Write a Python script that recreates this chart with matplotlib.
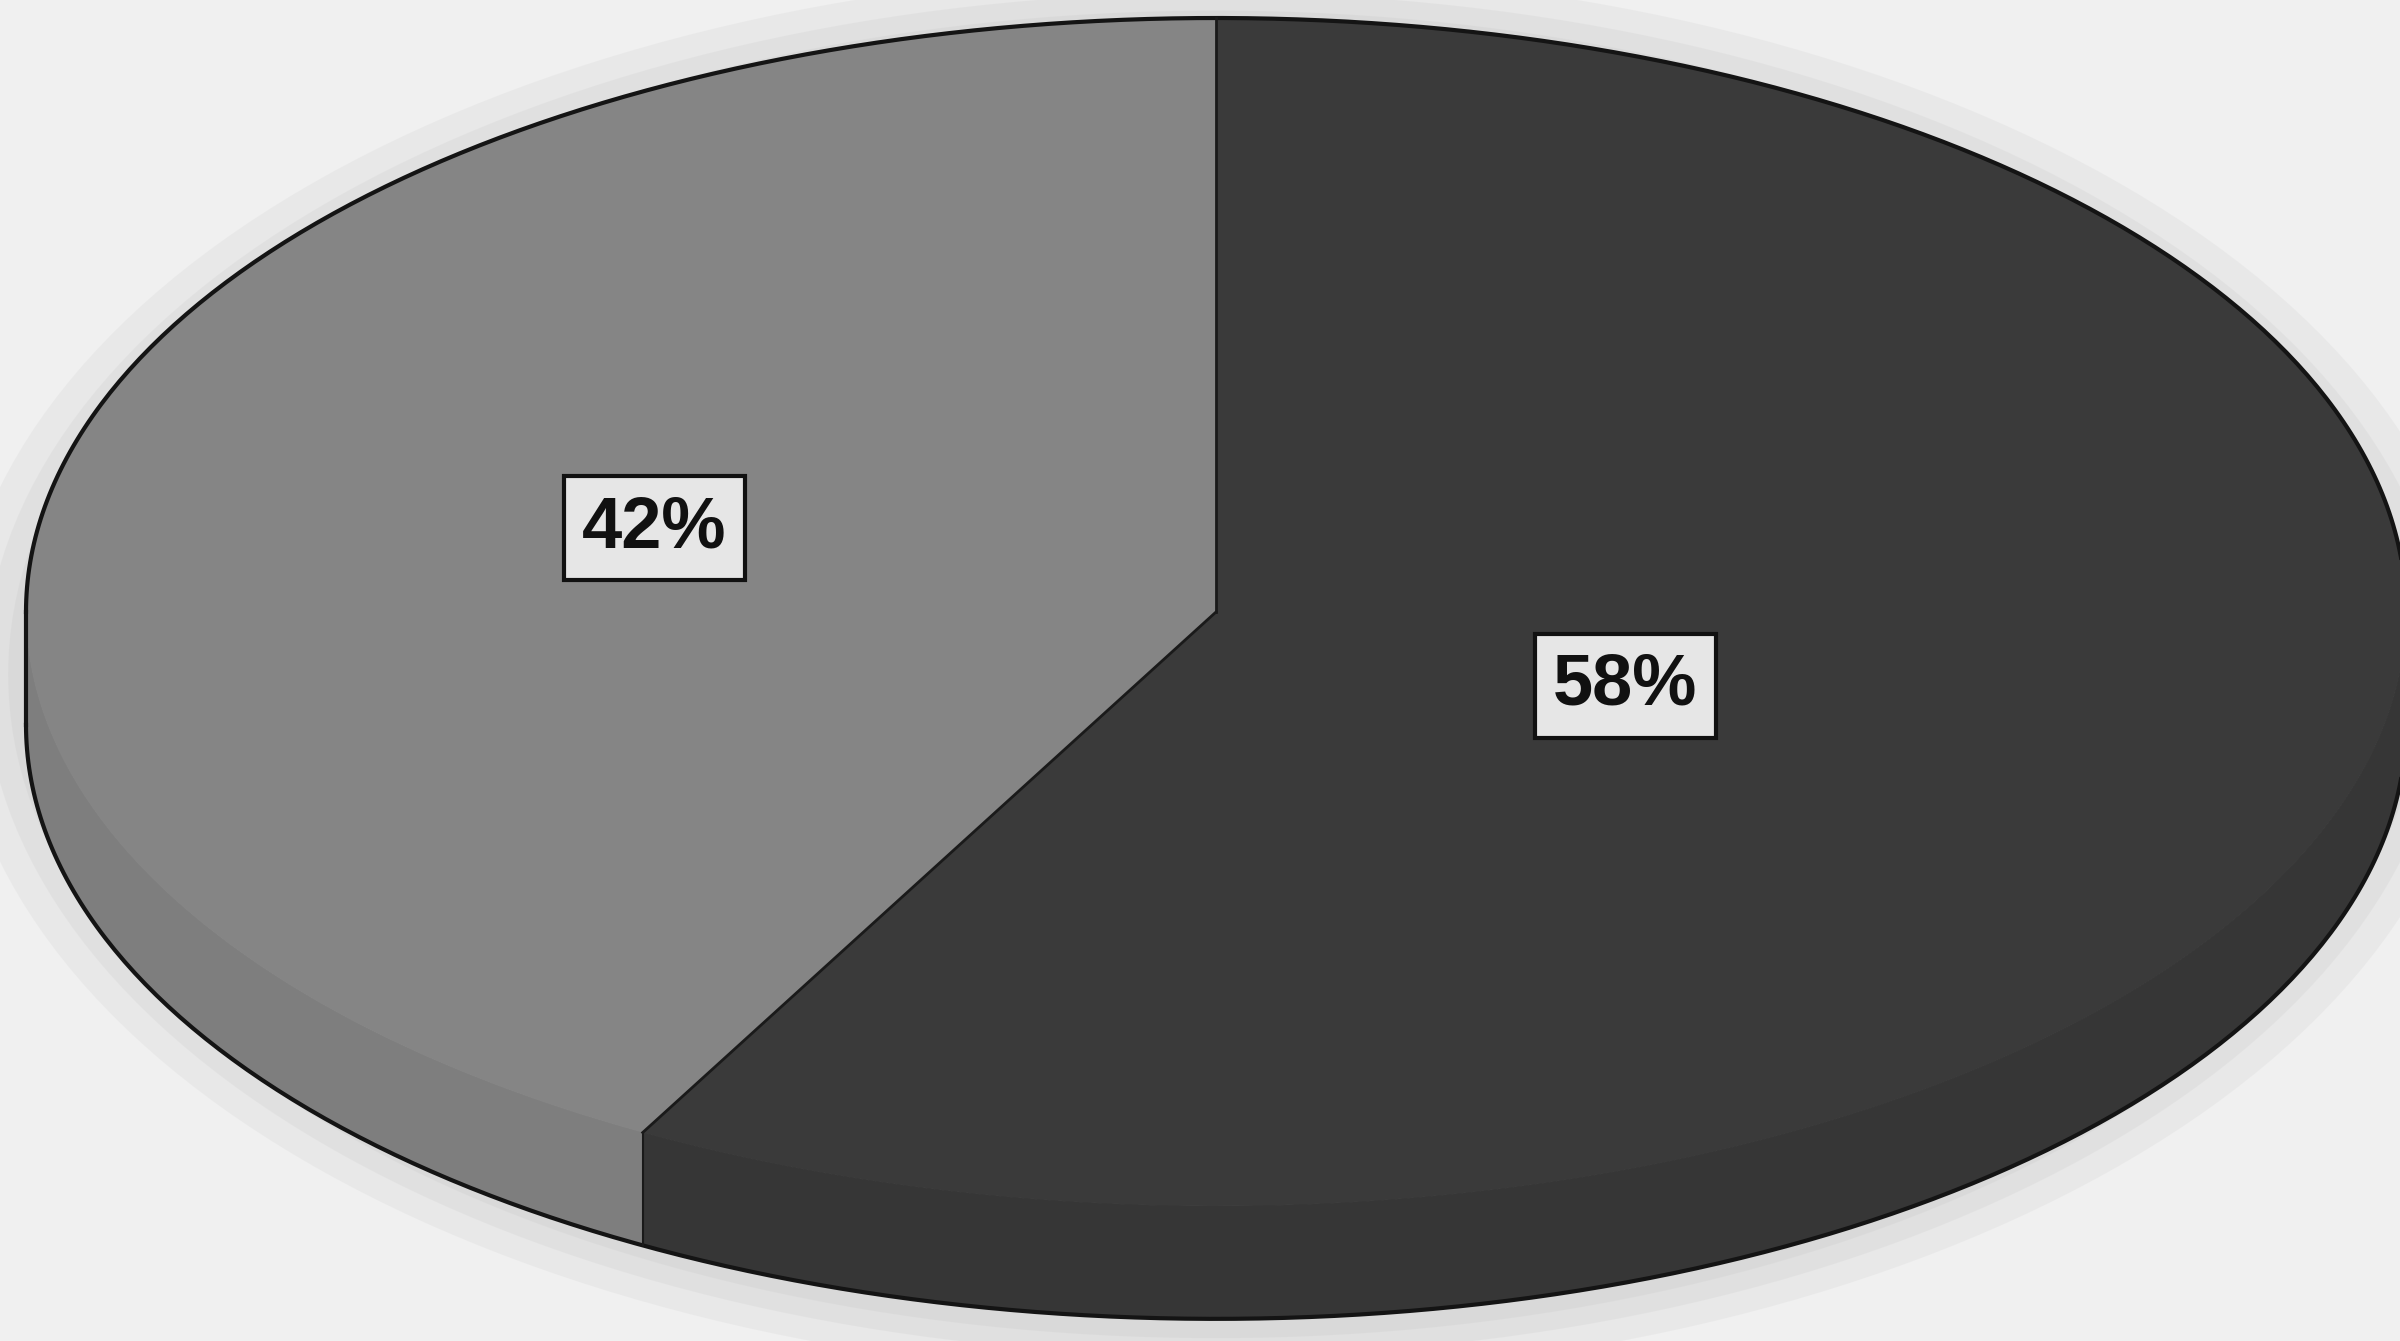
import numpy as np
import matplotlib.pyplot as plt
from matplotlib.patches import Ellipse

# share of the two groups
labels = ['42%', '58%']
values = [42, 58]
colors = ['#858585', '#3a3a3a']
side_colors = ['#7e7e7e', '#363636']

plt.rcParams['font.family'] = ['Liberation Sans', 'DejaVu Sans']

fig = plt.figure(figsize=[24, 13.41], dpi=100)
fig.patch.set_facecolor('#f0f0f0')
ax = fig.add_axes([0, 0, 1, 1])
ax.set_facecolor('#f0f0f0')

depth = 0.19
start = 90.0

# soft scan shadow around the disc
for k, al in [(0.06, 0.18), (0.035, 0.22), (0.015, 0.25)]:
    ax.add_patch(Ellipse((0.0, -depth / 2 - 0.01), 2 + 2 * k, 2 + depth + 3 * k,
                         facecolor='#c8c8c8', edgecolor='none', alpha=al, zorder=0))

# slice angle ranges
angles = []
a = start
for v in values:
    a2 = a + 360.0 * v / sum(values)
    angles.append((a, a2))
    a = a2

# side wall (front half only, 180..360 deg)
for (a1, a2), c in zip(angles, side_colors):
    for lo, hi in [(a1, a2), (a1 - 360, a2 - 360)]:
        s = max(lo, 180.0)
        e = min(hi, 360.0)
        if e <= s:
            continue
        t = np.radians(np.linspace(s, e, 200))
        xs = np.concatenate([np.cos(t), np.cos(t[::-1])])
        ys = np.concatenate([np.sin(t), np.sin(t[::-1]) - depth])
        ax.fill(xs, ys, facecolor=c, edgecolor=c, linewidth=1, zorder=1)

wedges, _ = ax.pie(values, colors=colors, startangle=start, counterclock=True,
                   radius=1.0, center=(0, 0),
                   wedgeprops=dict(edgecolor='none', linewidth=0))
for w in wedges:
    w.set_zorder(2)

# outline: back rim, sides, bottom rim
t = np.radians(np.linspace(0, 180, 300))
ax.plot(np.cos(t), np.sin(t), color='#141414', lw=3, zorder=3)
t = np.radians(np.linspace(180, 360, 300))
ax.plot(np.cos(t), np.sin(t) - depth, color='#141414', lw=3, zorder=3)
ax.plot([-1, -1], [0, -depth], color='#141414', lw=3, zorder=3)
ax.plot([1, 1], [0, -depth], color='#141414', lw=3, zorder=3)

# radial divisions on top
for a1, a2 in angles:
    r = np.radians(a1)
    ax.plot([0, np.cos(r)], [0, np.sin(r)], color='#1a1a1a', lw=2, zorder=3)
r = np.radians(angles[0][1])
ax.plot([np.cos(r), np.cos(r)], [np.sin(r), np.sin(r) - depth], color='#1a1a1a', lw=1.5, zorder=3)

# labels in boxes
label_pos = [(-0.472, 0.141), (0.344, -0.124)]
for (x, y), lab in zip(label_pos, labels):
    ax.text(x, y, lab, ha='center', va='center', fontsize=52, fontweight='bold',
            color='#111111', zorder=5,
            bbox=dict(boxstyle='square,pad=0.25', facecolor='#e6e6e6',
                      edgecolor='#111111', linewidth=3))

ax.set_aspect('auto')
# x: pixel 0..2400 with centre at 1216, a=1190 ; y: centre at 612 from top, b=594
ax.set_xlim(-1216 / 1190, (2400 - 1216) / 1190)
ax.set_ylim((612 - 1341) / 594, 612 / 594)
ax.axis('off')

fig.savefig('out.png', dpi=100, facecolor=fig.get_facecolor())
